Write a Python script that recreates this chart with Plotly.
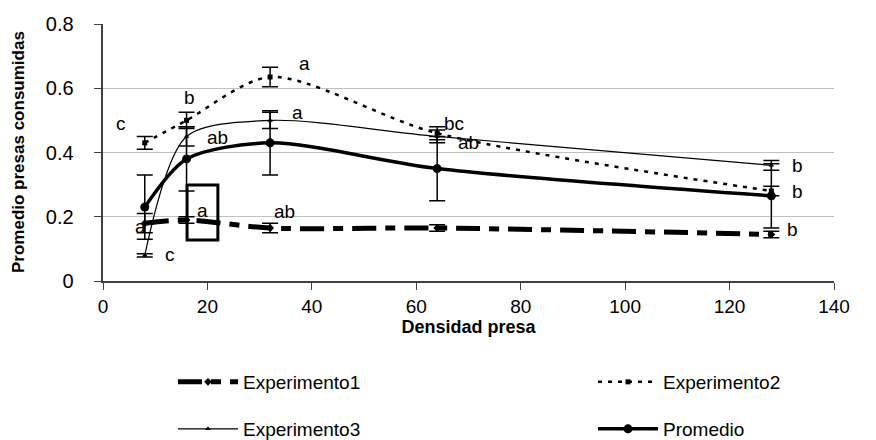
import plotly.graph_objects as go

densidad = [8, 16, 32, 64, 128]

exp1 = [0.18, 0.19, 0.165, 0.165, 0.145]
exp1_err = [0.03, 0.01, 0.015, 0.01, 0.01]
exp2 = [0.43, 0.50, 0.635, 0.46, 0.28]
exp2_err = [0.02, 0.025, 0.03, 0.02, 0.015]
exp3 = [0.08, 0.45, 0.50, 0.45, 0.36]
exp3_err = [0.005, 0.03, 0.025, 0.02, 0.015]
promedio = [0.23, 0.38, 0.43, 0.35, 0.265]
promedio_err = [0.10, 0.10, 0.10, 0.10, 0.10]

letras = ["c", "a", "c", "b", "ab", "a", "ab", "a", "a", "bc", "ab", "b", "b", "b"]
letras_x = [3.4, 7.1, 12.9, 16.5, 22.0, 19.1, 34.8, 38.6, 37.3, 67.3, 70.0, 133, 133, 132]
letras_y = [0.49, 0.17, 0.084, 0.572, 0.448, 0.219, 0.215, 0.678, 0.523, 0.49, 0.43, 0.36, 0.28, 0.16]

FONT = "Liberation Sans, Arial, sans-serif"

def err(vals):
    return dict(type="data", array=vals, visible=True, color="black", thickness=1.5, width=8)

fig = go.Figure()
fig.add_trace(go.Scatter(
    x=densidad, y=exp1, name="Experimento1", mode="lines+markers",
    line=dict(color="black", width=5, dash="24px,9px,10px,9px", shape="spline", smoothing=0.8),
    marker=dict(symbol="diamond", size=6, color="black"),
    error_y=err(exp1_err), legend="legend"))
fig.add_trace(go.Scatter(
    x=densidad, y=exp2, name="Experimento2", mode="lines+markers",
    line=dict(color="black", width=2.5, dash="4px,6px", shape="spline", smoothing=0.8),
    marker=dict(symbol="square", size=5, color="black"),
    error_y=err(exp2_err), legend="legend2"))
fig.add_trace(go.Scatter(
    x=densidad, y=exp3, name="Experimento3", mode="lines+markers",
    line=dict(color="black", width=1.2, shape="spline", smoothing=0.8),
    marker=dict(symbol="triangle-up", size=5, color="black"),
    error_y=err(exp3_err), legend="legend3"))
fig.add_trace(go.Scatter(
    x=densidad, y=promedio, name="Promedio", mode="lines+markers",
    line=dict(color="black", width=3.5, shape="spline", smoothing=0.8),
    marker=dict(symbol="circle", size=9, color="black"),
    error_y=err(promedio_err), legend="legend4"))

for t, xx, yy in zip(letras, letras_x, letras_y):
    fig.add_annotation(x=xx, y=yy, text=t, showarrow=False,
                       font=dict(family=FONT, size=19, color="black"))

# y-axis title
fig.add_annotation(x=18 / 876, y=1 - 152 / 440, xref="paper" if False else "x domain", yref="y domain",
                   text="<b>Promedio presas consumidas</b>", showarrow=False, textangle=-90,
                   font=dict(family=FONT, size=17, color="black"))
fig.layout.annotations[-1].update(xref="paper", yref="paper",
                                  x=(18 - 103) / 731, y=(281 - 152) / 257,
                                  xanchor="center", yanchor="middle")

fig.add_shape(type="rect", x0=16.1, x1=22.0, y0=0.128, y1=0.299,
              line=dict(color="black", width=3), fillcolor="rgba(0,0,0,0)")

def leg(xpx, ypx):
    return dict(orientation="v", font=dict(family=FONT, size=19, color="black"),
                bgcolor="rgba(0,0,0,0)", xanchor="left", yanchor="middle",
                itemwidth=60, xref="container", yref="container",
                x=xpx / 876, y=1 - ypx / 440, borderwidth=0)

NB = "\u00a0"

fig.update_layout(
    width=876, height=440,
    margin=dict(l=103, r=42, t=24, b=159, autoexpand=False),
    plot_bgcolor="white", paper_bgcolor="white",
    font=dict(family=FONT, size=19, color="black"),
    showlegend=True,
    legend=leg(173, 382),
    legend2=leg(593, 382),
    legend3=leg(173, 429),
    legend4=leg(593, 429),
    xaxis=dict(range=[0, 140], dtick=20, tick0=0, showgrid=False,
               showline=True, linecolor="#404040", linewidth=1.5,
               ticks="outside", ticklen=7, tickcolor="#404040",
               tickfont=dict(family=FONT, size=19),
               title=dict(text="<b>Densidad presa</b>", font=dict(family=FONT, size=18), standoff=0),
               zeroline=False),
    yaxis=dict(range=[0, 0.8], dtick=0.2, tick0=0, showgrid=True,
               gridcolor="#c0c0c0", gridwidth=1,
               showline=True, linecolor="#404040", linewidth=1.5,
               ticks="outside", ticklen=7, tickcolor="#404040",
               ticksuffix=NB * 3,
               tickfont=dict(family=FONT, size=20),
               zeroline=False),
)

fig.write_html("out.html", config={"displayModeBar": False},
               post_script="document.body.style.margin='0';document.body.style.overflow='hidden';")
